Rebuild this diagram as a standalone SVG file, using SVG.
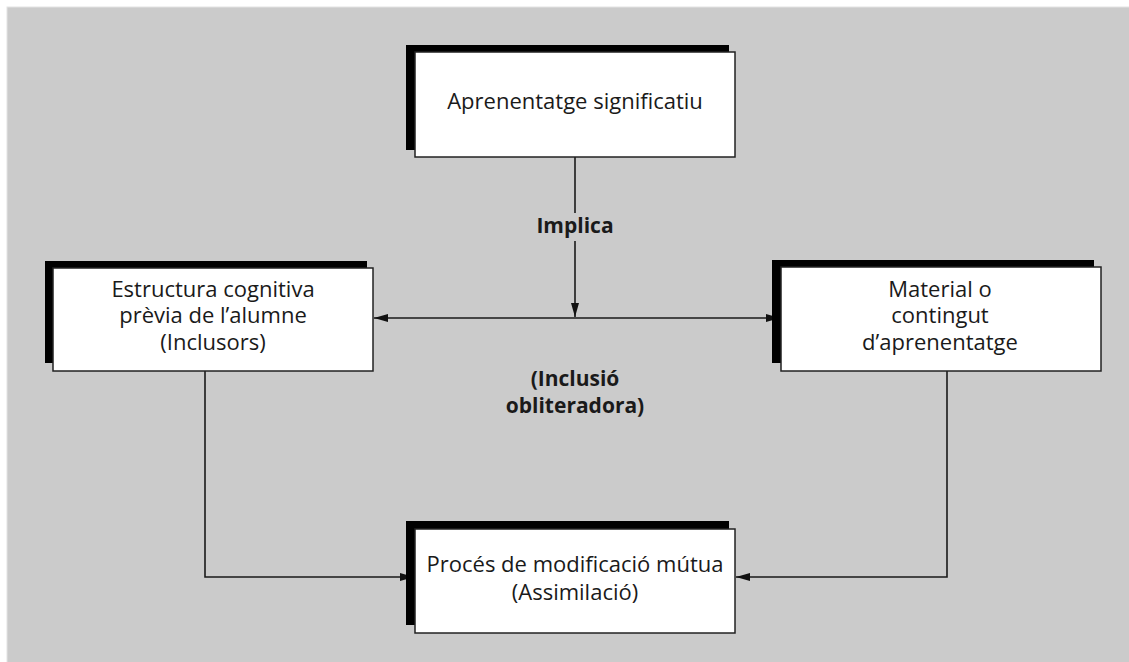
<svg xmlns="http://www.w3.org/2000/svg" width="1129" height="662" viewBox="0 0 1129 662">
<style>
.shadow{fill:#000}
.box{fill:#fff;stroke:#222;stroke-width:1.5}
.t{font-family:"Open Sans","Liberation Sans",sans-serif;font-size:22px;fill:#1a1a1a;text-anchor:middle}
.b{font-family:"Open Sans","Liberation Sans",sans-serif;font-size:21px;font-weight:bold;fill:#1a1a1a;text-anchor:middle}
.ln{fill:none;stroke:#1a1a1a;stroke-width:1.6}
</style>
<defs>
<marker id="ah" viewBox="0 0 14 8" refX="14" refY="4" markerWidth="14" markerHeight="8" markerUnits="userSpaceOnUse" orient="auto">
<path d="M0,0 L14,4 L0,8 Z" fill="#111"/>
</marker>
</defs>
<rect x="0" y="0" width="1129" height="662" fill="#fff"/>
<rect x="7" y="7" width="1125" height="660" fill="#cbcbcb" stroke="#e4e4e4" stroke-width="1"/>

<g id="connectors">
<line class="ln" x1="575" y1="157" x2="575" y2="213"/>
<line class="ln" x1="575" y1="241" x2="575" y2="317" marker-end="url(#ah)"/>
<line class="ln" x1="575" y1="318" x2="374" y2="318" marker-end="url(#ah)"/>
<line class="ln" x1="575" y1="318" x2="780" y2="318" marker-end="url(#ah)"/>
<polyline class="ln" points="205,371 205,577 414,577" marker-end="url(#ah)"/>
<polyline class="ln" points="947,371 947,577 736,577" marker-end="url(#ah)"/>
<text class="b" x="575" y="233">Implica</text>
<text class="b" x="575" y="386">(Inclusió</text>
<text class="b" x="575" y="413">obliteradora)</text>
</g>

<g id="node-aprenentatge">
<rect class="shadow" x="406" y="45" width="323" height="105"/>
<rect class="box" x="415" y="52" width="320" height="105"/>
<text class="t" x="575" y="109">Aprenentatge significatiu</text>
</g>

<g id="node-estructura">
<rect class="shadow" x="45" y="261" width="322" height="102"/>
<rect class="box" x="53" y="268" width="320" height="103"/>
<text class="t" x="213" y="297">Estructura cognitiva</text>
<text class="t" x="213" y="323">prèvia de l’alumne</text>
<text class="t" x="213" y="350">(Inclusors)</text>
</g>

<g id="node-material">
<rect class="shadow" x="772" y="260" width="322" height="103"/>
<rect class="box" x="781" y="267" width="320" height="104"/>
<text class="t" x="940" y="297">Material o</text>
<text class="t" x="940" y="323">contingut</text>
<text class="t" x="940" y="350">d’aprenentatge</text>
</g>

<g id="node-proces">
<rect class="shadow" x="406" y="521" width="323" height="104"/>
<rect class="box" x="415" y="529" width="320" height="104"/>
<text class="t" x="575" y="572">Procés de modificació mútua</text>
<text class="t" x="575" y="600">(Assimilació)</text>
</g>
</svg>
